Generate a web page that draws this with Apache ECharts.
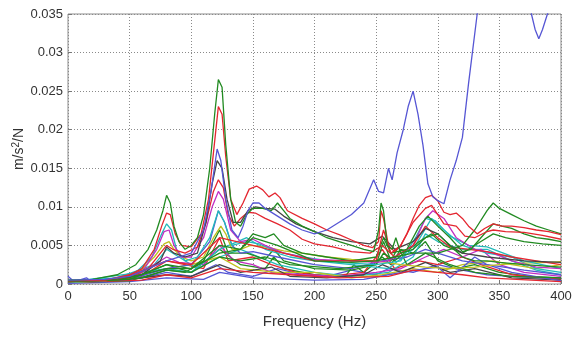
<!DOCTYPE html>
<html>
<head>
<meta charset="utf-8">
<script src="https://cdn.jsdelivr.net/npm/echarts@6/dist/echarts.min.js"></script>
<style>
  html, body { margin: 0; padding: 0; background: #fff; }
  #main { width: 577px; height: 339px; }
</style>
</head>
<body>
<div id="main"></div>
<script>
// frequency (Hz) / response (m/s^2/N) pairs
let xTicks = [0, 50, 100, 150, 200, 250, 300, 350, 400];
let yTicks = [0, 0.005, 0.01, 0.015, 0.02, 0.025, 0.03, 0.035];

// low level curves
let n1 = [[0,0.001],[5,0.0003],[15,0.0008],[20,0.0002],[40,0.0005],[60,0.0008],[80,0.0015],[100,0.001],[120,0.0025],[130,0.0015],[150,0.001],[170,0.002],[190,0.0012],[210,0.001],[230,0.0018],[250,0.0012],[260,0.002],[280,0.0015],[300,0.0025],[320,0.0018],[340,0.0012],[360,0.001],[380,0.0008],[400,0.0007]];
let n2 = [[0,0.0005],[20,0.0004],[50,0.0006],[80,0.0025],[100,0.0015],[123,0.0045],[140,0.0025],[160,0.002],[167,0.0035],[175,0.002],[200,0.0012],[225,0.001],[232,0.0025],[240,0.0015],[255,0.0035],[262,0.0025],[270,0.0045],[280,0.004],[290,0.0055],[300,0.003],[315,0.002],[330,0.0025],[350,0.0015],[375,0.001],[400,0.0008]];
let n3 = [[0,0.0003],[30,0.0004],[60,0.001],[80,0.003],[95,0.0025],[110,0.002],[123,0.006],[130,0.003],[150,0.0035],[165,0.0025],[185,0.0015],[210,0.001],[240,0.0015],[255,0.0045],[265,0.002],[285,0.003],[300,0.0025],[320,0.0035],[335,0.0025],[360,0.0012],[400,0.0006]];
let n4 = [[0,0.0004],[40,0.0008],[70,0.0025],[80,0.0045],[90,0.0035],[105,0.002],[123,0.0035],[140,0.0045],[155,0.0035],[170,0.0025],[200,0.0015],[230,0.001],[260,0.0015],[280,0.0035],[290,0.0065],[300,0.0055],[320,0.0045],[340,0.0045],[360,0.003],[380,0.0018],[400,0.0012]];
let n5 = [[0,0.0002],[50,0.0005],[80,0.0035],[90,0.0028],[110,0.0025],[123,0.005],[135,0.003],[150,0.0025],[165,0.0015],[190,0.0012],[220,0.001],[250,0.0015],[270,0.002],[290,0.0035],[305,0.0045],[320,0.0035],[335,0.0045],[350,0.0025],[370,0.0015],[400,0.001]];
let n6 = [[0,0.0002],[40,0.0004],[80,0.002],[100,0.0025],[123,0.0035],[140,0.002],[170,0.0015],[200,0.0015],[230,0.0008],[255,0.0012],[280,0.002],[300,0.0015],[320,0.0025],[345,0.003],[360,0.0025],[380,0.002],[400,0.0025]];
let n7 = [[0,0.0003],[40,0.0004],[80,0.0012],[100,0.001],[123,0.0025],[140,0.0015],[165,0.0022],[180,0.001],[210,0.0008],[240,0.0012],[255,0.0025],[270,0.0015],[290,0.0028],[310,0.0015],[330,0.002],[360,0.0008],[400,0.0005]];
let n8 = [[0,0.0001],[50,0.0003],[80,0.0008],[110,0.0006],[123,0.0015],[150,0.0008],[200,0.0005],[240,0.0006],[260,0.0012],[290,0.002],[300,0.0022],[310,0.0008],[330,0.0035],[340,0.0025],[360,0.0015],[400,0.0004]];
let n9 = [[0,0.0002],[50,0.0004],[80,0.0018],[95,0.0015],[110,0.003],[123,0.007],[130,0.004],[145,0.004],[160,0.0032],[167,0.0045],[175,0.003],[200,0.002],[230,0.0018],[250,0.0025],[256,0.0055],[262,0.003],[268,0.0048],[275,0.0025],[290,0.004],[310,0.0025],[330,0.0015],[360,0.001],[400,0.0008]];
let n10 = [[0,0.0002],[60,0.0005],[80,0.0012],[100,0.0008],[123,0.002],[150,0.0015],[180,0.0012],[220,0.0008],[260,0.001],[280,0.0018],[300,0.0015],[320,0.0012],[340,0.0008],[400,0.0003]];
let n11 = [[0,0.0002],[80,0.002],[100,0.0015],[123,0.0045],[145,0.006],[160,0.0045],[180,0.0035],[200,0.003],[230,0.0025],[260,0.002],[280,0.0045],[295,0.0085],[305,0.007],[320,0.005],[340,0.004],[360,0.0035],[380,0.002],[400,0.0015]];

// medium curves
let m1 = [[0,0.0003],[30,0.0004],[50,0.0008],[65,0.002],[75,0.004],[80,0.005],[85,0.0045],[95,0.004],[105,0.0048],[112,0.008],[118,0.012],[122,0.0135],[126,0.0125],[130,0.009],[135,0.0075],[140,0.0085],[146,0.0093],[152,0.0092],[160,0.0085],[170,0.0078],[180,0.007],[190,0.0058],[200,0.0052],[215,0.0048],[230,0.0042],[245,0.004],[255,0.005],[265,0.0035],[280,0.005],[290,0.0075],[300,0.006],[310,0.0048],[325,0.0045],[340,0.0042],[360,0.0035],[380,0.003],[400,0.0025]];
let m2 = [[0,0.0003],[40,0.0006],[60,0.0015],[72,0.0045],[78,0.0068],[82,0.007],[86,0.005],[92,0.0035],[100,0.0035],[110,0.006],[117,0.01],[122,0.012],[126,0.011],[132,0.007],[140,0.0055],[150,0.0058],[160,0.005],[175,0.004],[200,0.0032],[230,0.003],[250,0.0028],[260,0.003],[280,0.005],[290,0.0085],[296,0.0095],[305,0.0085],[315,0.006],[330,0.0045],[345,0.004],[360,0.003],[380,0.0022],[400,0.002]];
let m3 = [[0,0.0004],[40,0.0006],[60,0.0012],[75,0.003],[80,0.0048],[86,0.004],[95,0.0035],[105,0.004],[112,0.008],[117,0.013],[121,0.016],[125,0.015],[129,0.011],[134,0.008],[140,0.008],[146,0.0095],[152,0.01],[160,0.0098],[168,0.0097],[175,0.0088],[185,0.0078],[200,0.0068],[215,0.006],[230,0.0055],[245,0.0052],[255,0.0062],[265,0.0045],[280,0.0055],[290,0.0072],[300,0.0065],[310,0.005],[320,0.004],[340,0.0035],[370,0.003],[400,0.0028]];
let m4 = [[0,0.0002],[30,0.0004],[55,0.0015],[68,0.0035],[76,0.0065],[80,0.0078],[84,0.007],[88,0.0045],[95,0.003],[105,0.0035],[115,0.006],[122,0.0095],[127,0.008],[133,0.005],[145,0.0055],[155,0.0052],[170,0.0042],[190,0.0035],[220,0.0028],[250,0.0025],[270,0.003],[282,0.006],[290,0.0085],[298,0.0082],[310,0.0062],[325,0.005],[340,0.0048],[350,0.0042],[370,0.003],[400,0.002]];
let m5 = [[0,0.0002],[30,0.0004],[55,0.0012],[70,0.0035],[78,0.0052],[82,0.0055],[86,0.0045],[92,0.0035],[100,0.003],[110,0.0035],[118,0.006],[124,0.0075],[128,0.0065],[133,0.0045],[140,0.0045],[148,0.005],[160,0.0048],[175,0.0043],[190,0.004],[210,0.0035],[230,0.0032],[250,0.003],[270,0.0025],[290,0.0022],[310,0.002],[330,0.0022],[350,0.0025],[370,0.0027],[390,0.0028],[400,0.0029]];
let m6 = [[0,0.0003],[50,0.0006],[80,0.0025],[100,0.002],[123,0.005],[140,0.0045],[150,0.0065],[160,0.006],[167,0.0065],[175,0.005],[190,0.004],[210,0.0035],[230,0.003],[250,0.0035],[256,0.006],[262,0.004],[275,0.0045],[285,0.0075],[292,0.0088],[300,0.0075],[310,0.006],[320,0.0042],[327,0.0045],[335,0.006],[345,0.0078],[352,0.0075],[360,0.0072],[370,0.0065],[380,0.006],[390,0.0058],[400,0.0055]];
let m7 = [[0,0.0003],[40,0.0005],[80,0.002],[100,0.002],[123,0.004],[140,0.0045],[150,0.006],[170,0.005],[200,0.003],[230,0.0028],[250,0.003],[265,0.0035],[280,0.004],[300,0.004],[310,0.0045],[320,0.005],[330,0.007],[340,0.0095],[345,0.0105],[350,0.0098],[360,0.009],[370,0.0082],[380,0.0075],[390,0.007],[400,0.0065]];
let m8 = [[0,0.0003],[60,0.0008],[80,0.0018],[100,0.0015],[123,0.0035],[140,0.003],[160,0.0035],[180,0.0025],[220,0.002],[250,0.0025],[256,0.004],[265,0.003],[285,0.0055],[295,0.0065],[305,0.005],[320,0.004],[335,0.0055],[345,0.0065],[355,0.006],[370,0.0055],[385,0.0052],[400,0.005]];
let m9 = [[0,0.0003],[50,0.0006],[80,0.002],[100,0.0025],[115,0.0055],[122,0.0095],[127,0.008],[133,0.005],[140,0.004],[150,0.0042],[170,0.0035],[200,0.0025],[230,0.002],[255,0.003],[275,0.0035],[290,0.0045],[300,0.004],[320,0.003],[340,0.0025],[370,0.0018],[400,0.0012]];
let m10 = [[0,0.0003],[40,0.0005],[80,0.003],[100,0.0025],[123,0.006],[150,0.005],[200,0.003],[250,0.003],[256,0.007],[262,0.004],[270,0.005],[280,0.008],[290,0.0098],[295,0.0102],[300,0.009],[305,0.0078],[315,0.0075],[322,0.0062],[330,0.006],[340,0.0068],[345,0.007],[355,0.0068],[370,0.0067],[385,0.0063],[400,0.0058]];

// dominant curves
let greenTall = [[0,0.0005],[20,0.0006],[40,0.0012],[55,0.0025],[65,0.0045],[72,0.007],[77,0.0095],[80,0.0115],[83,0.0105],[86,0.0075],[90,0.0055],[95,0.0045],[100,0.005],[105,0.006],[110,0.009],[115,0.015],[119,0.022],[122,0.0265],[125,0.0255],[128,0.018],[132,0.011],[136,0.008],[140,0.0075],[145,0.009],[150,0.0098],[158,0.0098],[165,0.0095],[170,0.0105],[175,0.0095],[180,0.0085],[190,0.0075],[200,0.0068],[210,0.006],[220,0.0055],[230,0.005],[240,0.0045],[248,0.0042],[252,0.007],[254,0.0105],[256,0.0095],[259,0.005],[263,0.0045],[266,0.006],[270,0.004],[280,0.0045],[290,0.006],[300,0.0065],[310,0.005],[320,0.0035],[330,0.003],[340,0.003],[350,0.0028],[370,0.0025],[400,0.0022]];
let redTall = [[0,0.0004],[30,0.0005],[50,0.0012],[60,0.002],[70,0.0045],[76,0.0075],[80,0.0092],[83,0.009],[87,0.0065],[92,0.005],[100,0.0048],[108,0.0065],[114,0.011],[118,0.017],[122,0.023],[125,0.022],[128,0.0165],[132,0.011],[137,0.009],[142,0.0105],[147,0.0123],[153,0.0127],[158,0.0122],[163,0.0113],[168,0.0118],[172,0.0112],[178,0.0095],[190,0.0085],[200,0.0078],[210,0.007],[220,0.0064],[230,0.0057],[240,0.005],[247,0.0047],[252,0.0055],[254,0.0095],[256,0.0085],[260,0.005],[265,0.0042],[270,0.005],[275,0.0065],[280,0.0085],[285,0.0102],[290,0.0112],[295,0.0115],[300,0.0108],[305,0.0093],[310,0.009],[315,0.0092],[320,0.0085],[325,0.0075],[332,0.0065],[338,0.0072],[345,0.0078],[352,0.0075],[360,0.0075],[370,0.0073],[380,0.007],[390,0.0068],[400,0.0064]];
let blueBig = [[0,0.0005],[30,0.0006],[50,0.001],[80,0.003],[100,0.004],[110,0.007],[116,0.012],[121,0.0175],[124,0.016],[128,0.011],[133,0.007],[138,0.006],[142,0.0075],[146,0.0095],[150,0.0105],[155,0.0105],[160,0.0098],[170,0.0088],[180,0.0078],[190,0.007],[200,0.0065],[210,0.007],[220,0.008],[230,0.009],[240,0.0105],[248,0.0135],[252,0.012],[256,0.0118],[260,0.015],[263,0.0135],[267,0.017],[272,0.02],[276,0.023],[280,0.025],[284,0.022],[288,0.018],[292,0.013],[296,0.0113],[300,0.0108],[305,0.0104],[310,0.0135],[315,0.016],[320,0.019],[325,0.026],[332,0.035],[340,0.045],[360,0.05],[376,0.035],[379,0.033],[382,0.0318],[385,0.033],[389,0.035],[400,0.04]];

const C = {
  b: '#5656d4', g: '#218a21', r: '#e42630', c: '#22baba',
  m: '#c22ec2', y: '#c0c01e', k: '#444444'
};

let curves = [
  [n1, C.b], [n2, C.g], [n3, C.r], [n4, C.c], [n5, C.m], [n6, C.y], [n7, C.k],
  [n8, C.b], [n9, C.g], [n10, C.r], [n11, C.c],
  [m9, C.b], [m5, C.y], [m8, C.g], [m4, C.c], [m2, C.m], [m1, C.r], [m3, C.k],
  [m6, C.g], [m10, C.r], [m7, C.g],
  [redTall, C.r], [greenTall, C.g], [blueBig, C.b]
];

let series = curves.map(function (c, i) {
  return {
    type: 'line',
    data: c[0],
    showSymbol: false,
    clip: true,
    color: c[1],
    lineStyle: { width: 1.3, color: c[1] },
    z: 2 + i * 0.01
  };
});

let chart = echarts.init(document.getElementById('main'), null, { renderer: 'canvas' });

chart.setOption({
  animation: false,
  backgroundColor: '#fff',
  grid: {
    left: 68, right: 16, top: 14, bottom: 55,
    outerBoundsMode: 'none',
    containLabel: false,
    show: true, borderColor: '#8c8c8c', borderWidth: 1
  },
  xAxis: {
    type: 'value',
    min: xTicks[0], max: xTicks[xTicks.length - 1], interval: 50,
    name: 'Frequency (Hz)',
    nameLocation: 'middle',
    nameGap: 30,
    nameMoveOverlap: false,
    nameTextStyle: { fontFamily: 'Liberation Sans', fontSize: 15, color: '#333' },
    axisLine: { show: false },
    axisTick: { inside: true, length: 4, lineStyle: { color: '#777' } },
    axisLabel: { fontFamily: 'Liberation Sans', fontSize: 13, color: '#333', margin: 6 },
    splitLine: { show: true, lineStyle: { color: '#8a8a8a', type: [1, 2], width: 1 } }
  },
  yAxis: {
    type: 'value',
    min: yTicks[0], max: yTicks[yTicks.length - 1], interval: 0.005,
    name: '{t|m/s}{s|2}{t|/N}',
    nameLocation: 'middle',
    nameGap: 40,
    nameMoveOverlap: false,
    nameTextStyle: {
      rich: {
        t: { fontFamily: 'Liberation Sans', fontSize: 14, color: '#333' },
        s: { fontFamily: 'Liberation Sans', fontSize: 10, color: '#333', verticalAlign: 'top', padding: [0, 0, 7, 0] }
      }
    },
    axisLine: { show: false },
    axisTick: { inside: true, length: 4, lineStyle: { color: '#777' } },
    axisLabel: { fontFamily: 'Liberation Sans', fontSize: 13, color: '#333', margin: 5 },
    splitLine: { show: true, lineStyle: { color: '#8a8a8a', type: [1, 2], width: 1 } }
  },
  series: series
});
</script>
</body>
</html>
